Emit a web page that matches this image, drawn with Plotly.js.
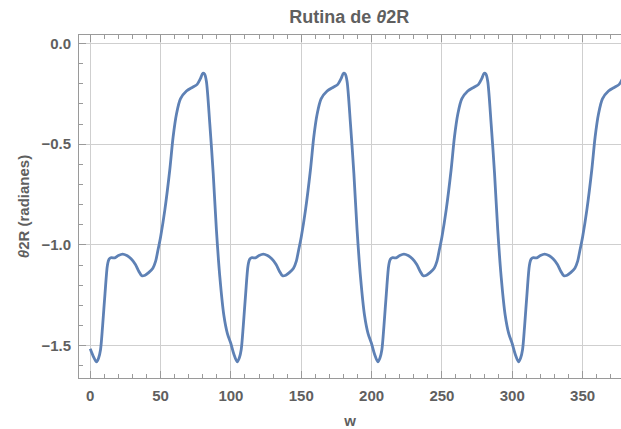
<!DOCTYPE html>
<html>
<head>
<meta charset="utf-8">
<script src="https://cdn.plot.ly/plotly-3.0.1.min.js"></script>
<style>html,body{margin:0;padding:0;background:#fff;}#chart{width:621px;height:429px;}</style>
</head>
<body>
<div id="chart"></div>
<script>
// w values
const w = [
  0,2,4.5,6,7.3,8.8,10.5,12.2,13.4,15,17.4,20,23,26,29,32,34.5,36.7,39,41.5,44.5,46.5,48,50,53,56.5,58.9,61.3,64.1,68.4,73,76,78.3,80,81.3,82.6,85,87.4,89.7,92.1,95,97.5,
  100,102,104.5,106,107.3,108.8,110.5,112.2,113.4,115,117.4,120,123,126,129,132,134.5,136.7,139,141.5,144.5,146.5,148,150,153,156.5,158.9,161.3,164.1,168.4,173,176,178.3,180,181.3,182.6,185,187.4,189.7,192.1,195,197.5,
  200,202,204.5,206,207.3,208.8,210.5,212.2,213.4,215,217.4,220,223,226,229,232,234.5,236.7,239,241.5,244.5,246.5,248,250,253,256.5,258.9,261.3,264.1,268.4,273,276,278.3,280,281.3,282.6,285,287.4,289.7,292.1,295,297.5,
  300,302,304.5,306,307.3,308.8,310.5,312.2,313.4,315,317.4,320,323,326,329,332,334.5,336.7,339,341.5,344.5,346.5,348,350,353,356.5,358.9,361.3,364.1,368.4,373,376,378.3
];
// theta2R values in radians
const theta2R = [
  -1.515,-1.55,-1.58,-1.56,-1.52,-1.40,-1.24,-1.10,-1.07,-1.063,-1.064,-1.052,-1.045,-1.052,-1.068,-1.095,-1.13,-1.153,-1.15,-1.137,-1.115,-1.08,-1.03,-0.96,-0.827,-0.629,-0.464,-0.35,-0.275,-0.236,-0.216,-0.203,-0.175,-0.148,-0.152,-0.19,-0.40,-0.645,-0.926,-1.157,-1.35,-1.44,
  -1.49,-1.54,-1.58,-1.56,-1.52,-1.40,-1.24,-1.10,-1.07,-1.063,-1.064,-1.052,-1.045,-1.052,-1.068,-1.095,-1.13,-1.153,-1.15,-1.137,-1.115,-1.08,-1.03,-0.96,-0.827,-0.629,-0.464,-0.35,-0.275,-0.236,-0.216,-0.203,-0.175,-0.148,-0.152,-0.19,-0.40,-0.645,-0.926,-1.157,-1.35,-1.44,
  -1.49,-1.54,-1.58,-1.56,-1.52,-1.40,-1.24,-1.10,-1.07,-1.063,-1.064,-1.052,-1.045,-1.052,-1.068,-1.095,-1.13,-1.153,-1.15,-1.137,-1.115,-1.08,-1.03,-0.96,-0.827,-0.629,-0.464,-0.35,-0.275,-0.236,-0.216,-0.203,-0.175,-0.148,-0.152,-0.19,-0.40,-0.645,-0.926,-1.157,-1.35,-1.44,
  -1.49,-1.54,-1.58,-1.56,-1.52,-1.40,-1.24,-1.10,-1.07,-1.063,-1.064,-1.052,-1.045,-1.052,-1.068,-1.095,-1.13,-1.153,-1.15,-1.137,-1.115,-1.08,-1.03,-0.96,-0.827,-0.629,-0.464,-0.35,-0.275,-0.236,-0.216,-0.203,-0.175
];
const xTickVals = [0,50,100,150,200,250,300,350];
const yTickVals = [0,-0.5,-1,-1.5];
const yTickText = ['0.0','\u22120.5','\u22121.0','\u22121.5'];

const textColor = '#5f5f5f';
const frameColor = '#9a9a9a';
const gridColor = '#cfcfcf';
const fontFam = '"Liberation Sans", Arial, sans-serif';

const trace = {
  x: w, y: theta2R, type: 'scatter', mode: 'lines',
  line: {color: '#5E81B5', width: 2.8, shape: 'spline', smoothing: 0.8},
  hoverinfo: 'skip'
};

const layout = {
  width: 621, height: 429,
  margin: {l: 79, r: 0, t: 35, b: 51, pad: 0},
  paper_bgcolor: '#fff', plot_bgcolor: '#fff',
  showlegend: false,
  font: {family: fontFam, color: textColor},
  title: {text: '<b>Rutina de <i>θ</i>2R</b>', font: {size: 18, color: textColor, family: fontFam},
          x: 0.5625, xanchor: 'center', y: 0.962, yanchor: 'middle'},
  xaxis: {
    range: [-8, 377.3], tickvals: xTickVals, ticktext: xTickVals.map(String),
    ticks: 'inside', ticklen: 7, tickcolor: frameColor, tickwidth: 1,
    minor: {dtick: 10, tick0: 0, ticks: 'inside', ticklen: 4, tickcolor: frameColor, tickwidth: 1, showgrid: false},
    showline: true, linecolor: frameColor, linewidth: 1, mirror: 'ticks',
    showgrid: true, gridcolor: gridColor, gridwidth: 1, zeroline: false,
    tickfont: {size: 15, color: textColor, family: fontFam, weight: 'bold'},
    ticklabelstandoff: 4,
    title: {text: '<b>w</b>', font: {size: 15, color: textColor, family: fontFam}, standoff: 12}
  },
  yaxis: {
    range: [-1.66, 0.042], tickvals: yTickVals, ticktext: yTickText,
    ticks: 'inside', ticklen: 7, tickcolor: frameColor, tickwidth: 1,
    minor: {dtick: 0.1, tick0: 0, ticks: 'inside', ticklen: 4, tickcolor: frameColor, tickwidth: 1, showgrid: false},
    showline: true, linecolor: frameColor, linewidth: 1, mirror: false,
    showgrid: true, gridcolor: gridColor, gridwidth: 1, zeroline: false,
    tickfont: {size: 15, color: textColor, family: fontFam, weight: 'bold'},
    ticklabelstandoff: 4,
    title: {text: '<b><i>θ</i>2R (radianes)</b>', font: {size: 15, color: textColor, family: fontFam}, standoff: 8}
  }
};

Plotly.newPlot('chart', [trace], layout, {staticPlot: true, displayModeBar: false});
</script>
</body>
</html>
